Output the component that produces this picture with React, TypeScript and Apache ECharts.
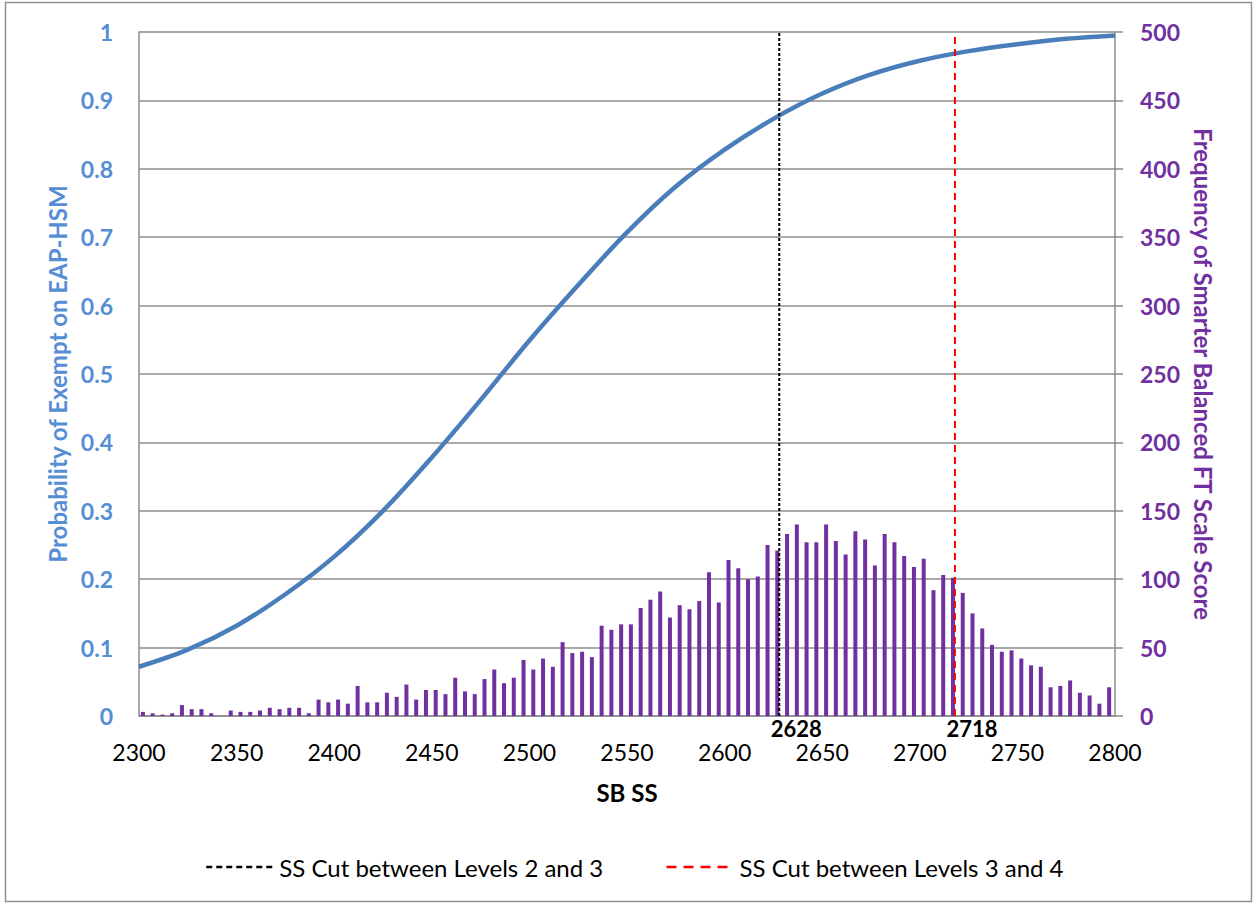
import React, { useEffect, useRef } from "react";
import * as echarts from "echarts";

const scoreStart = 2302;
const scoreStep = 5;
const frequencies = [
  3, 2, 1, 2, 8, 5, 5, 2, 0, 4,
  3, 3, 4, 6, 5, 6, 6, 2, 12, 10,
  12, 9, 22, 10, 10, 17, 14, 23, 12, 19,
  19, 16, 28, 18, 16, 27, 34, 24, 28, 41,
  34, 42, 36, 54, 46, 47, 43, 66, 63, 67,
  67, 79, 85, 91, 72, 81, 78, 84, 105, 83,
  114, 108, 100, 102, 125, 121, 133, 140, 127, 127,
  140, 128, 118, 135, 129, 110, 133, 127, 117, 109,
  115, 92, 103, 101, 90, 75, 64, 52, 47, 48,
  42, 37, 36, 21, 22, 26, 17, 15, 9, 21,
];

const curveScores = [
  2300, 2325, 2350, 2375, 2400, 2425, 2450, 2475, 2500, 2525, 2550,
  2575, 2600, 2625, 2650, 2675, 2700, 2725, 2750, 2775, 2800,
];
const curveProbs = [
  0.072, 0.097, 0.132, 0.178, 0.233, 0.3, 0.378, 0.462, 0.549, 0.63, 0.707,
  0.774, 0.828, 0.873, 0.91, 0.938, 0.958, 0.972, 0.982, 0.99, 0.995,
];

const cut23 = 2628;
const cut34 = 2718;
const cutValues = [cut23, cut34];
const cut23Name = "SS Cut between Levels 2 and 3";
const cut34Name = "SS Cut between Levels 3 and 4";

const FONT = "Lato";
const BLUE_TXT = "#558ED5";
const PURPLE = "#7030A0";
const GRID_GRAY = "#8c8c8c";

export default function App() {
  const ref = useRef<HTMLDivElement>(null);
  useEffect(() => {
    if (!ref.current) return;
    const chart = echarts.init(ref.current, undefined, { renderer: "svg" });
    const barData = frequencies.map((f, i) => [scoreStart + i * scoreStep, f]);
    const curveData = curveScores.map((s, i) => [s, curveProbs[i]]);
    const border = {
      type: "rect",
      shape: { x: 5.5, y: 2.5, width: 1246, height: 899 },
      style: { fill: "none", stroke: "#8f8f8f", lineWidth: 1.5 },
      silent: true,
    };
    const option: any = {
      animation: false,
      backgroundColor: "#ffffff",
      textStyle: { fontFamily: FONT },
      graphic: [border],
      grid: { left: 139, top: 32, width: 976, height: 684, containLabel: false },
      legend: {
        top: 850,
        left: 200,
        itemWidth: 68,
        itemHeight: 14,
        itemGap: 62,
        textStyle: { fontFamily: FONT, fontSize: 24, color: "#000", padding: [0, 0, 0, 0] },
        data: [
          {
            name: cut23Name,
            itemStyle: { opacity: 0 },
            lineStyle: { type: [6, 4], width: 2.5, color: "#000" },
          },
          {
            name: cut34Name,
            itemStyle: { opacity: 0 },
            lineStyle: { type: [10, 7], width: 2.5, color: "#ff0000" },
          },
        ],
      },
      xAxis: {
        type: "value",
        min: 2300,
        max: 2800,
        interval: 50,
        name: "SB SS",
        nameLocation: "middle",
        nameGap: 64,
        nameTextStyle: { fontFamily: FONT, fontSize: 24, fontWeight: "bold", color: "#000" },
        axisLine: { show: true, lineStyle: { color: GRID_GRAY, width: 1.5 } },
        axisTick: { show: false },
        splitLine: { show: false },
        axisLabel: {
          fontFamily: FONT,
          fontSize: 23,
          lineHeight: 20,
          color: "#000",
          margin: 26,
          formatter: (v: number) => String(v),
        },
      },
      yAxis: [
        {
          type: "value",
          min: 0,
          max: 1,
          interval: 0.1,
          position: "left",
          name: "Probability of Exempt on EAP-HSM",
          nameLocation: "middle",
          nameRotate: 90,
          nameGap: 68,
          nameTextStyle: { fontFamily: FONT, fontSize: 24, fontWeight: "bold", color: BLUE_TXT },
          axisLine: { show: true, lineStyle: { color: GRID_GRAY, width: 1.5 } },
          axisTick: { show: false },
          splitLine: { show: true, lineStyle: { color: GRID_GRAY, width: 1.5 } },
          axisLabel: {
            fontFamily: FONT,
            fontSize: 23,
            fontWeight: "bold",
            color: BLUE_TXT,
            margin: 26,
            formatter: (v: number) => String(Math.round(v * 10) / 10),
          },
        },
        {
          type: "value",
          min: 0,
          max: 500,
          interval: 50,
          position: "right",
          name: "Frequency of Smarter Balanced FT Scale Score",
          nameLocation: "middle",
          nameRotate: -90,
          nameGap: 76,
          nameTextStyle: { fontFamily: FONT, fontSize: 24, fontWeight: "bold", color: PURPLE },
          axisLine: { show: true, lineStyle: { color: GRID_GRAY, width: 1.5 } },
          axisTick: { show: true, length: 8, inside: false, lineStyle: { color: GRID_GRAY, width: 1.5 } },
          splitLine: { show: false },
          axisLabel: { fontFamily: FONT, fontSize: 23, fontWeight: "bold", color: PURPLE, margin: 25 },
        },
      ],
      series: [
        {
          name: "Frequency",
          type: "bar",
          yAxisIndex: 1,
          data: barData,
          barWidth: 4,
          itemStyle: { color: PURPLE },
          z: 2,
        },
        {
          name: "Probability",
          type: "line",
          yAxisIndex: 0,
          data: curveData,
          smooth: 0.35,
          symbol: "none",
          lineStyle: { color: "#4A7EBB", width: 4.5 },
          z: 3,
        },
        {
          name: cut23Name,
          type: "line",
          yAxisIndex: 0,
          data: [[cut23, 0], [cut23, 1]],
          symbol: "none",
          lineStyle: { color: "#000", width: 2, type: [3, 2] },
          itemStyle: { color: "#000" },
          z: 4,
        },
        {
          name: cut34Name,
          type: "line",
          yAxisIndex: 0,
          data: [[cut34, 0], [cut34, 1]],
          symbol: "none",
          lineStyle: { color: "#ff0000", width: 2, type: [7, 5] },
          itemStyle: { color: "#ff0000" },
          z: 4,
        },
      ],
    };
    chart.setOption(option);
    const cutTexts = cutValues.map((c) => {
      const p = chart.convertToPixel({ xAxisIndex: 0, yAxisIndex: 0 }, [c, 0]) as number[];
      return {
        type: "text",
        x: p[0] + 17,
        y: p[1] + 1,
        z: 10,
        style: {
          text: String(c),
          fontFamily: FONT,
          fontSize: 22,
          fontWeight: "bold",
          fill: "#000",
          align: "center",
          verticalAlign: "top",
        },
        silent: true,
      };
    });
    chart.setOption({ graphic: [border, ...cutTexts] });
    return () => chart.dispose();
  }, []);
  return (
    <div
      ref={ref}
      style={{ position: "absolute", left: 0, top: 0, width: 1255, height: 904 }}
    />
  );
}
